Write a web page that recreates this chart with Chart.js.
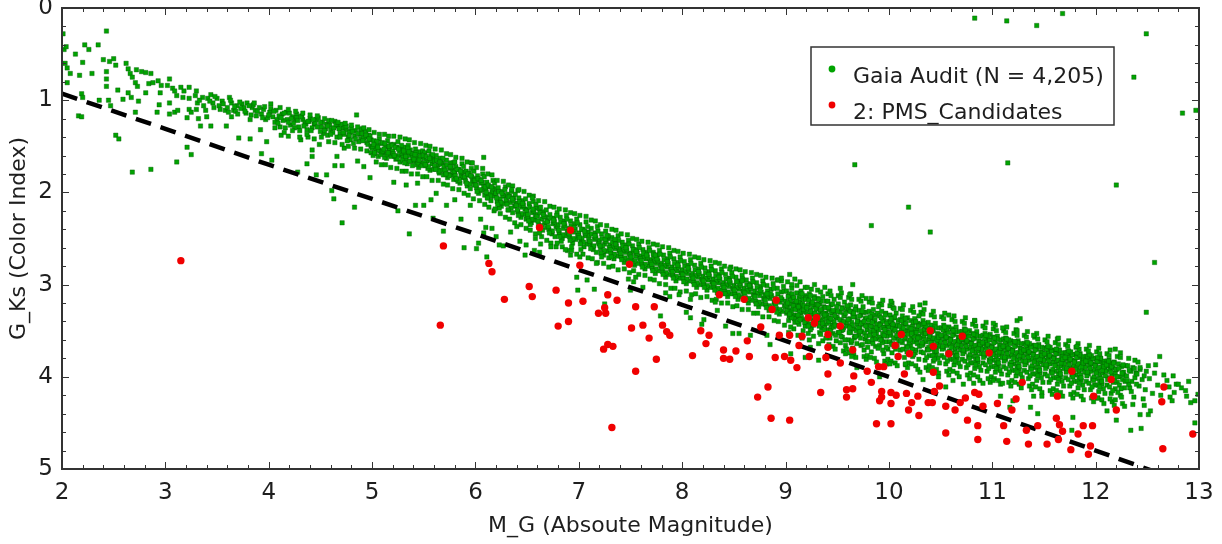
<!DOCTYPE html>
<html>
<head>
<meta charset="utf-8">
<script src="https://cdn.jsdelivr.net/npm/chart.js@4/dist/chart.umd.min.js"></script>
<style>
html, body { margin: 0; padding: 0; background: #fff; }
#wrap { width: 1222px; height: 544px; }
</style>
</head>
<body>
<div id="wrap"><canvas id="cmd" width="1222" height="544"></canvas></div>
<script>
// Gaia audit stars as [M_G, G_Ks]
// bright end, sparse (M_G 2 - 5)
const gaiaBright = [
  [2.01,0.28],[2.02,0.45],[2.04,0.42],[2.03,0.60],[2.05,0.65],[2.08,0.71],[2.05,0.81],[2.13,0.50],[2.22,0.40],[2.26,0.45],
  [2.35,0.40],[2.43,0.25],[2.20,0.59],[2.17,0.73],[2.29,0.71],[2.19,0.93],[2.20,0.97],[2.16,1.17],[2.19,1.18],[2.40,0.56],
  [2.46,0.58],[2.50,0.55],[2.52,0.62],[2.43,0.69],[2.43,0.77],[2.43,0.85],[2.36,1.00],[2.45,1.00],[2.47,1.06],[2.54,0.89],
  [2.59,0.99],[2.62,0.60],[2.64,0.66],[2.66,0.71],[2.68,0.75],[2.72,0.67],[2.71,0.81],[2.73,0.85],[2.64,0.92],[2.67,0.97],
  [2.74,1.01],[2.71,1.13],[2.52,1.38],[2.55,1.42],[2.68,1.78],[2.86,1.75],[2.77,0.69],[2.81,0.70],[2.86,0.71],[2.84,0.82],
  [2.88,0.81],[2.81,0.92],[2.93,0.79],[2.94,1.05],[2.92,1.13],[2.95,0.92],[2.96,0.84],[3.02,0.84],[3.04,0.77],[3.07,0.87],
  [3.09,0.90],[3.11,0.95],[3.04,1.03],[3.09,1.13],[3.04,1.15],[3.12,1.11],[3.15,0.86],[3.18,0.90],[3.23,0.86],[3.17,0.97],
  [3.23,0.98],[3.23,1.10],[3.21,1.19],[3.25,1.13],[3.30,0.90],[3.29,0.95],[3.31,1.03],[3.30,1.10],[3.32,1.20],[3.34,1.28],
  [3.36,0.97],[3.39,1.11],[3.40,1.18],[3.41,0.98],[3.44,0.94],[3.46,1.03],[3.47,1.08],[3.44,1.28],[3.50,0.98],[3.52,1.06],
  [3.55,1.01],[3.58,1.11],[3.62,0.97],[3.64,1.03],[3.66,1.11],[3.64,1.18],[3.59,1.28],[3.69,1.06],[3.71,1.41],[3.74,1.04],
  [3.76,1.08],[3.79,1.03],[3.82,1.21],[3.84,1.08],[3.87,1.11],[3.82,1.42],[3.91,1.08],[3.93,1.15],[3.92,1.32],[3.97,1.21],
  [3.98,1.45],[3.93,1.58],[4.03,1.65],[4.01,1.13],[4.04,1.18],[4.07,1.11],[4.08,1.21],[4.11,1.29],[4.12,1.38],[4.13,1.15],
  [4.17,1.13],[4.18,1.21],[4.21,1.27],[4.19,1.39],[4.23,1.18],[4.26,1.21],[4.27,1.15],[4.29,1.29],[4.28,1.78],[4.31,1.43],
  [4.33,1.21],[4.35,1.24],[4.37,1.32],[4.38,1.40],[4.40,1.20],[4.42,1.54],[4.42,1.61],[4.37,1.69],[4.44,1.26],[4.46,1.21],
  [4.46,1.81],[4.49,1.48],[4.51,1.29],[4.53,1.36],[4.56,1.26],[4.56,1.81],[4.58,1.22],[4.60,1.32],[4.61,1.98],[4.63,2.07],
  [4.64,1.71],[4.66,1.61],[4.67,1.28],[4.69,1.36],[4.72,1.30],[4.71,1.71],[4.73,1.52],[4.75,1.32],[4.77,1.40],[4.79,1.43],
  [4.79,1.34],[4.82,1.47],[4.83,2.16],[4.85,1.16],[4.86,1.66],[4.88,1.37],[4.89,1.42],[4.90,1.32],[4.92,1.72],[4.93,1.40],
  [4.95,1.46],[4.97,1.38],[4.98,1.84],[4.99,1.43],[4.71,2.33],[3.11,1.67],[3.21,1.51],[3.25,1.59],
  [3.60,1.08],[3.68,1.12],[3.72,1.02],[3.78,1.14],[3.85,1.05],[3.88,1.17],[3.95,1.10],[3.99,1.19],[4.02,1.09],[4.06,1.24],
  [4.10,1.17],[4.14,1.22],[4.16,1.30],[4.20,1.14],[4.24,1.25],[4.27,1.19],[4.30,1.33],[4.32,1.17],[4.36,1.26],[4.39,1.23],
  [4.42,1.30],[4.45,1.25],[4.48,1.19],[4.50,1.34],[4.52,1.24],[4.55,1.31],[4.57,1.38],[4.59,1.27],[4.62,1.35],[4.64,1.23],
  [4.66,1.40],[4.68,1.31],[4.70,1.26],[4.73,1.37],[4.74,1.29],[4.76,1.44],[4.78,1.35],[4.80,1.30],[4.83,1.39],[4.84,1.33],
  [4.87,1.45],[4.90,1.36],[4.92,1.41],[4.94,1.34],[4.96,1.48],[4.98,1.39],
  [3.33,1.00],[3.37,1.06],[3.43,1.01],[3.48,0.96],[3.53,1.10],[3.56,1.04],[3.61,1.13],[3.63,1.00],[3.67,1.07],[3.70,1.15],
  [3.73,1.09],[3.77,1.12],[3.81,1.06],[3.83,1.16],[3.86,1.03],[3.89,1.12],[3.94,1.19],[3.96,1.07],[4.00,1.16],[4.05,1.12],
  [4.09,1.25],[4.12,1.19],[4.15,1.14],[4.19,1.24],[4.22,1.20],[4.25,1.30],[4.28,1.22],[4.31,1.18],[4.34,1.28],[4.38,1.23],
  [4.41,1.33],[4.43,1.21],[4.47,1.29],[4.50,1.24],[4.54,1.33],[4.57,1.28],[4.60,1.37],[4.63,1.30],[4.65,1.26],[4.69,1.40],
  [4.72,1.35],[4.75,1.28],[4.78,1.38],[4.81,1.34],[4.84,1.42],[4.86,1.36],[4.89,1.31],[4.91,1.44],[4.94,1.38],[4.97,1.42],[4.99,1.50],
  [4.02,1.04],[4.06,1.30],[4.11,1.08],[4.15,1.35],[4.19,1.10],[4.23,1.33],[4.26,1.12],[4.30,1.40],[4.33,1.14],[4.37,1.37],
  [4.40,1.16],[4.44,1.42],[4.47,1.17],[4.51,1.40],[4.54,1.20],[4.58,1.45],[4.61,1.22],[4.64,1.46],[4.67,1.24],[4.71,1.48],
  [4.74,1.25],[4.77,1.50],[4.80,1.27],[4.83,1.52],[4.86,1.29],[4.89,1.53],[4.92,1.30],[4.95,1.55],[4.97,1.32],[4.99,1.57]
];

// main band, M_G 5 - 9
const gaiaMid = [
  [5.00,1.52],[5.02,1.44],[5.03,1.58],[5.05,1.49],[5.06,1.61],[5.07,1.42],[5.08,1.55],[5.09,1.47],[5.04,1.53],[5.01,1.60],
  [5.10,1.46],[5.11,1.57],[5.13,1.50],[5.14,1.63],[5.15,1.44],[5.16,1.54],[5.18,1.48],[5.19,1.59],[5.12,1.62],[5.17,1.52],
  [5.20,1.55],[5.21,1.48],[5.23,1.64],[5.24,1.51],[5.25,1.45],[5.26,1.60],[5.27,1.67],[5.28,1.53],[5.29,1.58],[5.22,1.61],
  [5.30,1.62],[5.31,1.51],[5.32,1.57],[5.34,1.69],[5.35,1.49],[5.36,1.60],[5.37,1.54],[5.38,1.66],[5.39,1.71],[5.33,1.64],
  [5.40,1.58],[5.41,1.66],[5.42,1.53],[5.44,1.62],[5.45,1.73],[5.46,1.56],[5.47,1.68],[5.48,1.61],[5.49,1.55],[5.43,1.70],
  [5.50,1.63],[5.51,1.57],[5.52,1.71],[5.53,1.66],[5.55,1.55],[5.56,1.76],[5.57,1.60],[5.58,1.69],[5.59,1.64],[5.54,1.74],
  [5.60,1.66],[5.61,1.73],[5.62,1.60],[5.64,1.70],[5.65,1.79],[5.66,1.63],[5.67,1.76],[5.68,1.68],[5.69,1.81],[5.63,1.74],
  [5.70,1.71],[5.71,1.78],[5.72,1.65],[5.73,1.84],[5.75,1.74],[5.76,1.68],[5.77,1.81],[5.78,1.76],[5.79,1.86],[5.74,1.80],
  [5.80,1.79],[5.81,1.72],[5.82,1.86],[5.84,1.75],[5.85,1.90],[5.86,1.82],[5.87,1.69],[5.88,1.84],[5.89,1.78],[5.83,1.88],
  [5.90,1.84],[5.91,1.77],[5.92,1.93],[5.93,1.81],[5.95,1.96],[5.96,1.74],[5.97,1.88],[5.98,1.85],[5.99,1.92],[5.94,1.79],
  [6.00,1.87],[6.01,1.95],[6.02,1.82],[6.03,2.01],[6.05,1.90],[6.06,1.98],[6.07,1.80],[6.08,1.93],[6.09,2.03],[6.04,1.86],
  [6.10,1.97],[6.11,1.89],[6.12,2.06],[6.14,1.94],[6.15,2.09],[6.16,2.00],[6.17,1.87],[6.18,2.04],[6.19,1.96],[6.13,2.02],
  [6.20,2.01],[6.21,2.10],[6.22,1.95],[6.24,2.07],[6.25,2.15],[6.26,1.99],[6.27,2.12],[6.28,2.04],[6.29,1.94],[6.23,2.17],
  [6.30,2.09],[6.31,2.02],[6.32,2.19],[6.34,2.11],[6.35,1.99],[6.36,2.22],[6.37,2.06],[6.38,2.15],[6.39,2.12],[6.33,2.04],
  [6.40,2.12],[6.41,2.21],[6.42,2.06],[6.44,2.27],[6.45,2.16],[6.46,2.09],[6.47,2.24],[6.48,2.18],[6.49,2.29],[6.43,2.14],
  [6.50,2.19],[6.51,2.27],[6.52,2.12],[6.54,2.33],[6.55,2.22],[6.56,2.10],[6.57,2.30],[6.58,2.25],[6.59,2.17],[6.53,2.35],
  [6.60,2.24],[6.61,2.35],[6.62,2.18],[6.64,2.29],[6.65,2.41],[6.66,2.21],[6.67,2.33],[6.68,2.27],[6.69,2.38],[6.63,2.16],
  [6.70,2.31],[6.71,2.40],[6.72,2.24],[6.74,2.45],[6.75,2.34],[6.76,2.28],[6.77,2.48],[6.78,2.37],[6.79,2.22],[6.73,2.42],
  [6.80,2.35],[6.81,2.44],[6.82,2.27],[6.84,2.50],[6.85,2.39],[6.86,2.31],[6.87,2.47],[6.88,2.25],[6.89,2.42],[6.83,2.53],
  [6.90,2.39],[6.91,2.48],[6.92,2.31],[6.94,2.55],[6.95,2.43],[6.96,2.34],[6.97,2.51],[6.98,2.29],[6.99,2.46],[6.93,2.41],
  [7.00,2.44],[7.01,2.35],[7.02,2.53],[7.04,2.40],[7.05,2.59],[7.06,2.47],[7.07,2.32],[7.08,2.56],[7.09,2.43],[7.03,2.50],
  [7.10,2.47],[7.11,2.56],[7.12,2.39],[7.14,2.62],[7.15,2.51],[7.16,2.44],[7.17,2.65],[7.18,2.37],[7.19,2.54],[7.13,2.59],
  [7.20,2.52],[7.21,2.61],[7.22,2.45],[7.24,2.68],[7.25,2.56],[7.26,2.42],[7.27,2.64],[7.28,2.50],[7.29,2.71],[7.23,2.58],
  [7.30,2.57],[7.31,2.66],[7.32,2.49],[7.34,2.72],[7.35,2.61],[7.36,2.53],[7.37,2.69],[7.38,2.47],[7.39,2.63],[7.33,2.59],
  [7.40,2.61],[7.41,2.70],[7.42,2.54],[7.44,2.76],[7.45,2.65],[7.46,2.57],[7.47,2.73],[7.48,2.52],[7.49,2.67],[7.43,2.63],
  [7.50,2.66],[7.51,2.74],[7.52,2.58],[7.54,2.79],[7.55,2.69],[7.56,2.62],[7.57,2.77],[7.58,2.56],[7.59,2.71],[7.53,2.64],
  [7.60,2.69],[7.61,2.78],[7.62,2.62],[7.64,2.83],[7.65,2.72],[7.66,2.65],[7.67,2.80],[7.68,2.60],[7.69,2.75],[7.63,2.70],
  [7.70,2.73],[7.71,2.82],[7.72,2.65],[7.74,2.88],[7.75,2.77],[7.76,2.68],[7.77,2.85],[7.78,2.63],[7.79,2.79],[7.73,2.75],
  [7.80,2.77],[7.81,2.86],[7.82,2.68],[7.84,2.92],[7.85,2.81],[7.86,2.72],[7.87,2.89],[7.88,2.66],[7.89,2.83],[7.83,2.79],
  [7.90,2.81],[7.91,2.90],[7.92,2.72],[7.94,2.96],[7.95,2.85],[7.96,2.76],[7.97,2.93],[7.98,2.70],[7.99,2.87],[7.93,2.83],
  [8.00,2.84],[8.01,2.93],[8.02,2.75],[8.04,2.99],[8.05,2.88],[8.06,2.79],[8.07,2.96],[8.08,2.73],[8.09,2.90],[8.03,2.86],
  [8.10,2.88],[8.11,2.97],[8.12,2.79],[8.14,3.03],[8.15,2.92],[8.16,2.83],[8.17,3.00],[8.18,2.77],[8.19,2.94],[8.13,2.90],
  [8.20,2.91],[8.21,3.00],[8.22,2.82],[8.24,3.06],[8.25,2.95],[8.26,2.86],[8.27,3.03],[8.28,2.80],[8.29,2.97],[8.23,2.93],
  [8.30,2.94],[8.31,3.03],[8.32,2.85],[8.34,3.09],[8.35,2.98],[8.36,2.89],[8.37,3.06],[8.38,2.83],[8.39,3.00],[8.33,2.96],
  [8.40,2.98],[8.41,3.07],[8.42,2.89],[8.44,3.13],[8.45,3.02],[8.46,2.93],[8.47,3.10],[8.48,2.87],[8.49,3.04],[8.43,3.00],
  [8.50,3.01],[8.51,3.10],[8.52,2.92],[8.54,3.16],[8.55,3.05],[8.56,2.96],[8.57,3.13],[8.58,2.90],[8.59,3.07],[8.53,3.03],
  [8.60,3.04],[8.61,3.14],[8.62,2.95],[8.64,3.20],[8.65,3.08],[8.66,2.99],[8.67,3.17],[8.68,2.93],[8.69,3.11],[8.63,3.06],
  [8.70,3.07],[8.71,3.18],[8.72,2.98],[8.74,3.24],[8.75,3.12],[8.76,3.02],[8.77,3.21],[8.78,2.96],[8.79,3.15],[8.73,3.09],
  [8.80,3.11],[8.81,3.22],[8.82,3.01],[8.84,3.28],[8.85,3.15],[8.86,3.05],[8.87,3.25],[8.88,2.99],[8.89,3.19],[8.83,3.13],
  [8.90,3.15],[8.91,3.26],[8.92,3.04],[8.94,3.32],[8.95,3.19],[8.96,3.08],[8.97,3.29],[8.98,3.02],[8.99,3.23],[8.93,3.17]
];

// denser core of the main band, M_G 5 - 9
const gaiaMidCore = [
  [5.005,1.50],[5.025,1.57],[5.045,1.45],[5.065,1.54],[5.085,1.59],[5.015,1.48],[5.055,1.51],[5.095,1.56],
  [5.105,1.55],[5.125,1.47],[5.145,1.59],[5.165,1.50],[5.185,1.61],[5.115,1.53],[5.155,1.57],[5.195,1.49],
  [5.205,1.58],[5.225,1.51],[5.245,1.63],[5.265,1.55],[5.285,1.49],[5.215,1.60],[5.255,1.53],[5.295,1.65],
  [5.305,1.55],[5.325,1.61],[5.345,1.52],[5.365,1.66],[5.385,1.58],[5.315,1.68],[5.355,1.56],[5.395,1.62],
  [5.405,1.64],[5.425,1.57],[5.445,1.68],[5.465,1.61],[5.485,1.71],[5.415,1.59],[5.455,1.65],[5.495,1.60],
  [5.505,1.68],[5.525,1.61],[5.545,1.72],[5.565,1.65],[5.585,1.59],[5.515,1.70],[5.555,1.63],[5.595,1.75],
  [5.605,1.71],[5.625,1.65],[5.645,1.77],[5.665,1.69],[5.685,1.63],[5.615,1.75],[5.655,1.67],[5.695,1.72],
  [5.705,1.76],[5.725,1.70],[5.745,1.82],[5.765,1.73],[5.785,1.68],[5.715,1.80],[5.755,1.72],[5.795,1.78],
  [5.805,1.82],[5.825,1.75],[5.845,1.87],[5.865,1.78],[5.885,1.72],[5.815,1.85],[5.855,1.77],[5.895,1.83],
  [5.905,1.88],[5.925,1.80],[5.945,1.91],[5.965,1.83],[5.985,1.77],[5.915,1.90],[5.955,1.82],[5.995,1.87],
  [6.005,1.92],[6.025,1.85],[6.045,1.97],[6.065,1.89],[6.085,1.83],[6.015,1.99],[6.055,1.87],[6.095,1.94],
  [6.105,2.00],[6.125,1.92],[6.145,2.04],[6.165,1.96],[6.185,1.90],[6.115,2.06],[6.155,1.94],[6.195,2.01],
  [6.205,2.06],[6.225,1.99],[6.245,2.11],[6.265,2.03],[6.285,1.97],[6.215,2.13],[6.255,2.01],[6.295,2.08],
  [6.305,2.13],[6.325,2.05],[6.345,2.17],[6.365,2.09],[6.385,2.02],[6.315,2.19],[6.355,2.07],[6.395,2.14],
  [6.405,2.19],[6.425,2.10],[6.445,2.23],[6.465,2.14],[6.485,2.07],[6.415,2.25],[6.455,2.12],[6.495,2.20],
  [6.505,2.24],[6.525,2.16],[6.545,2.29],[6.565,2.20],[6.585,2.13],[6.515,2.31],[6.555,2.18],[6.595,2.26],
  [6.605,2.31],[6.625,2.22],[6.645,2.36],[6.665,2.26],[6.685,2.19],[6.615,2.38],[6.655,2.24],[6.695,2.32],
  [6.705,2.37],[6.725,2.28],[6.745,2.42],[6.765,2.32],[6.785,2.25],[6.715,2.44],[6.755,2.30],[6.795,2.39],
  [6.805,2.41],[6.825,2.32],[6.845,2.46],[6.865,2.36],[6.885,2.29],[6.815,2.48],[6.855,2.34],[6.895,2.43],
  [6.905,2.45],[6.925,2.36],[6.945,2.50],[6.965,2.40],[6.985,2.33],[6.915,2.52],[6.955,2.38],[6.995,2.47],
  [7.005,2.49],[7.025,2.40],[7.045,2.54],[7.065,2.44],[7.085,2.37],[7.015,2.56],[7.055,2.42],[7.095,2.51],
  [7.105,2.53],[7.125,2.45],[7.145,2.58],[7.165,2.49],[7.185,2.42],[7.115,2.61],[7.155,2.47],[7.195,2.56],
  [7.205,2.58],[7.225,2.50],[7.245,2.63],[7.265,2.53],[7.285,2.47],[7.215,2.66],[7.255,2.51],[7.295,2.60],
  [7.305,2.62],[7.325,2.54],[7.345,2.67],[7.365,2.58],[7.385,2.52],[7.315,2.70],[7.355,2.56],[7.395,2.64],
  [7.405,2.66],[7.425,2.58],[7.445,2.71],[7.465,2.62],[7.485,2.56],[7.415,2.73],[7.455,2.60],[7.495,2.68],
  [7.505,2.70],[7.525,2.62],[7.545,2.74],[7.565,2.66],[7.585,2.60],[7.515,2.77],[7.555,2.64],[7.595,2.72],
  [7.605,2.74],[7.625,2.66],[7.645,2.78],[7.665,2.70],[7.685,2.63],[7.615,2.81],[7.655,2.68],[7.695,2.76],
  [7.705,2.78],[7.725,2.70],[7.745,2.83],[7.765,2.74],[7.785,2.67],[7.715,2.85],[7.755,2.72],[7.795,2.80],
  [7.805,2.82],[7.825,2.73],[7.845,2.87],[7.865,2.77],[7.885,2.70],[7.815,2.89],[7.855,2.75],[7.895,2.84],
  [7.905,2.86],[7.925,2.77],[7.945,2.91],[7.965,2.81],[7.985,2.74],[7.915,2.93],[7.955,2.79],[7.995,2.88],
  [8.005,2.89],[8.025,2.80],[8.045,2.94],[8.065,2.84],[8.085,2.77],[8.015,2.97],[8.055,2.82],[8.095,2.91],
  [8.105,2.93],[8.125,2.84],[8.145,2.98],[8.165,2.88],[8.185,2.81],[8.115,3.00],[8.155,2.86],[8.195,2.95],
  [8.205,2.96],[8.225,2.87],[8.245,3.01],[8.265,2.91],[8.285,2.84],[8.215,3.03],[8.255,2.89],[8.295,2.98],
  [8.305,2.99],[8.325,2.90],[8.345,3.04],[8.365,2.94],[8.385,2.87],[8.315,3.06],[8.355,2.92],[8.395,3.01],
  [8.405,3.03],[8.425,2.94],[8.445,3.08],[8.465,2.98],[8.485,2.91],[8.415,3.10],[8.455,2.96],[8.495,3.05],
  [8.505,3.06],[8.525,2.97],[8.545,3.11],[8.565,3.01],[8.585,2.94],[8.515,3.13],[8.555,2.99],[8.595,3.08],
  [8.605,3.09],[8.625,3.00],[8.645,3.15],[8.665,3.04],[8.685,2.97],[8.615,3.17],[8.655,3.02],[8.695,3.12],
  [8.705,3.13],[8.725,3.03],[8.745,3.19],[8.765,3.08],[8.785,3.00],[8.715,3.21],[8.755,3.06],[8.795,3.16],
  [8.805,3.17],[8.825,3.07],[8.845,3.23],[8.865,3.12],[8.885,3.04],[8.815,3.25],[8.855,3.10],[8.895,3.20],
  [8.905,3.21],[8.925,3.10],[8.945,3.27],[8.965,3.16],[8.985,3.07],[8.915,3.30],[8.955,3.14],[8.995,3.24]
];

// loose edges of the main band, M_G 5 - 9
const gaiaMidEdge = [
  [5.02,1.35],[5.07,1.37],[5.04,1.67],[5.09,1.70],[5.12,1.37],[5.16,1.39],[5.13,1.70],[5.18,1.73],
  [5.21,1.39],[5.27,1.40],[5.24,1.74],[5.29,1.77],[5.32,1.42],[5.36,1.43],[5.33,1.77],[5.38,1.80],
  [5.41,1.46],[5.47,1.47],[5.44,1.80],[5.49,1.83],[5.52,1.49],[5.56,1.50],[5.53,1.83],[5.58,1.87],
  [5.61,1.53],[5.67,1.54],[5.64,1.87],[5.69,1.91],[5.72,1.58],[5.76,1.59],[5.73,1.92],[5.78,1.96],
  [5.81,1.62],[5.87,1.63],[5.84,1.97],[5.89,2.01],[5.92,1.67],[5.96,1.68],[5.93,2.03],[5.98,2.07],
  [6.01,1.73],[6.07,1.74],[6.04,2.09],[6.09,2.13],[6.12,1.80],[6.16,1.81],[6.13,2.16],[6.18,2.20],
  [6.21,1.87],[6.27,1.88],[6.24,2.23],[6.29,2.27],[6.32,1.92],[6.36,1.93],[6.33,2.29],[6.38,2.33],
  [6.41,1.98],[6.47,1.99],[6.44,2.35],[6.49,2.39],[6.52,2.03],[6.56,2.04],[6.53,2.41],[6.58,2.45],
  [6.61,2.09],[6.67,2.10],[6.64,2.48],[6.69,2.52],[6.72,2.15],[6.76,2.16],[6.73,2.55],[6.78,2.59],
  [6.81,2.18],[6.87,2.19],[6.84,2.59],[6.89,2.63],[6.92,2.22],[6.96,2.23],[6.93,2.63],[6.98,2.67],
  [7.01,2.25],[7.07,2.26],[7.04,2.67],[7.09,2.71],[7.12,2.30],[7.16,2.31],[7.13,2.72],[7.18,2.76],
  [7.21,2.35],[7.27,2.36],[7.24,2.77],[7.29,2.81],[7.32,2.40],[7.36,2.41],[7.33,2.80],[7.38,2.84],
  [7.41,2.45],[7.47,2.46],[7.44,2.83],[7.49,2.87],[7.52,2.50],[7.56,2.51],[7.53,2.85],[7.58,2.89],
  [7.61,2.53],[7.67,2.54],[7.64,2.90],[7.69,2.94],[7.72,2.56],[7.76,2.57],[7.73,2.95],[7.78,2.99],
  [7.81,2.59],[7.87,2.60],[7.84,3.00],[7.89,3.04],[7.92,2.63],[7.96,2.64],[7.93,3.04],[7.98,3.08],
  [8.01,2.66],[8.07,2.67],[8.04,3.07],[8.09,3.11],[8.12,2.70],[8.16,2.71],[8.13,3.10],[8.18,3.14],
  [8.21,2.73],[8.27,2.74],[8.24,3.13],[8.29,3.17],[8.32,2.76],[8.36,2.77],[8.33,3.16],[8.38,3.20],
  [8.41,2.80],[8.47,2.81],[8.44,3.20],[8.49,3.24],[8.52,2.83],[8.56,2.84],[8.53,3.23],[8.58,3.27],
  [8.61,2.86],[8.67,2.87],[8.64,3.27],[8.69,3.31],[8.72,2.89],[8.76,2.90],[8.73,3.31],[8.78,3.35],
  [8.81,2.92],[8.87,2.93],[8.84,3.35],[8.89,3.39],[8.92,2.95],[8.96,2.96],[8.93,3.40],[8.99,3.44]
];

// faint, wide band, M_G 9 - 13
const gaiaFaint = [
  [9.00,3.18],[9.01,3.31],[9.01,3.07],[9.02,3.24],[9.03,3.39],[9.03,3.12],[9.04,3.28],[9.05,3.21],[9.05,3.35],[9.06,3.04],[9.07,3.26],[9.07,3.15],[9.08,3.33],[9.09,3.20],[9.09,3.41],[9.04,3.10],
  [9.10,3.22],[9.11,3.09],[9.11,3.35],[9.12,3.27],[9.13,3.14],[9.13,3.43],[9.14,3.19],[9.15,3.31],[9.15,3.07],[9.16,3.25],[9.17,3.38],[9.17,3.16],[9.18,3.29],[9.19,3.12],[9.19,3.45],[9.14,3.23],
  [9.20,3.30],[9.21,3.14],[9.21,3.41],[9.22,3.22],[9.23,3.35],[9.23,3.10],[9.24,3.27],[9.25,3.47],[9.25,3.19],[9.26,3.32],[9.27,3.24],[9.27,3.44],[9.28,3.13],[9.29,3.37],[9.29,3.21],[9.24,3.49],
  [9.30,3.26],[9.31,3.41],[9.31,3.15],[9.32,3.33],[9.33,3.52],[9.33,3.21],[9.34,3.38],[9.35,3.29],[9.35,3.47],[9.36,3.13],[9.37,3.35],[9.37,3.24],[9.38,3.44],[9.39,3.18],[9.39,3.31],[9.34,3.54],
  [9.40,3.33],[9.41,3.18],[9.41,3.49],[9.42,3.27],[9.43,3.58],[9.43,3.38],[9.44,3.22],[9.45,3.44],[9.45,3.31],[9.46,3.53],[9.47,3.16],[9.47,3.40],[9.48,3.29],[9.49,3.61],[9.49,3.35],[9.44,3.47],
  [9.50,3.36],[9.51,3.52],[9.51,3.21],[9.52,3.44],[9.53,3.30],[9.53,3.63],[9.54,3.39],[9.55,3.25],[9.55,3.57],[9.56,3.47],[9.57,3.19],[9.57,3.34],[9.58,3.66],[9.59,3.42],[9.59,3.28],[9.54,3.50],
  [9.60,3.45],[9.61,3.26],[9.61,3.60],[9.62,3.37],[9.63,3.52],[9.63,3.22],[9.64,3.41],[9.65,3.69],[9.65,3.31],[9.66,3.48],[9.67,3.56],[9.67,3.35],[9.68,3.24],[9.69,3.64],[9.69,3.43],[9.64,3.29],
  [9.70,3.39],[9.71,3.55],[9.71,3.28],[9.72,3.47],[9.73,3.66],[9.73,3.33],[9.74,3.51],[9.75,3.24],[9.75,3.43],[9.76,3.71],[9.77,3.37],[9.77,3.59],[9.78,3.30],[9.79,3.49],[9.79,3.62],[9.74,3.41],
  [9.80,3.44],[9.81,3.29],[9.81,3.62],[9.82,3.51],[9.83,3.36],[9.83,3.73],[9.84,3.46],[9.85,3.27],[9.85,3.57],[9.86,3.40],[9.87,3.67],[9.87,3.33],[9.88,3.53],[9.89,3.48],[9.89,3.31],[9.84,3.60],
  [9.90,3.49],[9.91,3.34],[9.91,3.66],[9.92,3.42],[9.93,3.58],[9.93,3.29],[9.94,3.53],[9.95,3.75],[9.95,3.38],[9.96,3.46],[9.97,3.62],[9.97,3.31],[9.98,3.56],[9.99,3.44],[9.99,3.70],[9.94,3.40],
  [10.00,3.46],[10.01,3.62],[10.01,3.33],[10.02,3.55],[10.03,3.41],[10.03,3.74],[10.04,3.50],[10.05,3.36],[10.05,3.67],[10.06,3.58],[10.07,3.31],[10.07,3.45],[10.08,3.78],[10.09,3.52],[10.09,3.39],[10.04,3.64],
  [10.10,3.56],[10.11,3.38],[10.11,3.71],[10.12,3.48],[10.13,3.63],[10.13,3.34],[10.14,3.53],[10.15,3.79],[10.15,3.43],[10.16,3.59],[10.17,3.50],[10.17,3.67],[10.18,3.36],[10.19,3.46],[10.19,3.75],[10.14,3.41],
  [10.20,3.51],[10.21,3.66],[10.21,3.39],[10.22,3.58],[10.23,3.78],[10.23,3.45],[10.24,3.62],[10.25,3.37],[10.25,3.54],[10.26,3.71],[10.27,3.48],[10.27,3.60],[10.28,3.42],[10.29,3.81],[10.29,3.56],[10.24,3.50],
  [10.30,3.58],[10.31,3.43],[10.31,3.73],[10.32,3.52],[10.33,3.65],[10.33,3.39],[10.34,3.56],[10.35,3.82],[10.35,3.47],[10.36,3.62],[10.37,3.53],[10.37,3.70],[10.38,3.41],[10.39,3.59],[10.39,3.77],[10.34,3.49],
  [10.40,3.55],[10.41,3.70],[10.41,3.44],[10.42,3.62],[10.43,3.83],[10.43,3.50],[10.44,3.66],[10.45,3.42],[10.45,3.58],[10.46,3.76],[10.47,3.53],[10.47,3.64],[10.48,3.47],[10.49,3.85],[10.49,3.60],[10.44,3.73],
  [10.50,3.62],[10.51,3.47],[10.51,3.77],[10.52,3.56],[10.53,3.69],[10.53,3.44],[10.54,3.60],[10.55,3.86],[10.55,3.51],[10.56,3.66],[10.57,3.58],[10.57,3.74],[10.58,3.46],[10.59,3.64],[10.59,3.81],[10.54,3.54],
  [10.60,3.59],[10.61,3.74],[10.61,3.48],[10.62,3.66],[10.63,3.87],[10.63,3.54],[10.64,3.70],[10.65,3.46],[10.65,3.62],[10.66,3.80],[10.67,3.57],[10.67,3.68],[10.68,3.51],[10.69,3.89],[10.69,3.64],[10.64,3.77],
  [10.70,3.66],[10.71,3.51],[10.71,3.81],[10.72,3.60],[10.73,3.73],[10.73,3.48],[10.74,3.64],[10.75,3.90],[10.75,3.55],[10.76,3.70],[10.77,3.62],[10.77,3.78],[10.78,3.50],[10.79,3.68],[10.79,3.85],[10.74,3.58],
  [10.80,3.63],[10.81,3.78],[10.81,3.53],[10.82,3.70],[10.83,3.91],[10.83,3.58],[10.84,3.74],[10.85,3.51],[10.85,3.66],[10.86,3.84],[10.87,3.61],[10.87,3.72],[10.88,3.56],[10.89,3.93],[10.89,3.68],[10.84,3.81],
  [10.90,3.70],[10.91,3.55],[10.91,3.85],[10.92,3.64],[10.93,3.77],[10.93,3.53],[10.94,3.68],[10.95,3.94],[10.95,3.59],[10.96,3.74],[10.97,3.66],[10.97,3.82],[10.98,3.54],[10.99,3.72],[10.99,3.89],[10.94,3.62],
  [11.00,3.67],[11.01,3.82],[11.01,3.57],[11.02,3.74],[11.03,3.95],[11.03,3.62],[11.04,3.78],[11.05,3.56],[11.05,3.70],[11.06,3.88],[11.07,3.65],[11.07,3.76],[11.08,3.60],[11.09,3.97],[11.09,3.72],[11.04,3.85],
  [11.10,3.74],[11.11,3.59],[11.11,3.89],[11.12,3.68],[11.13,3.81],[11.13,3.58],[11.14,3.72],[11.15,3.98],[11.15,3.63],[11.16,3.78],[11.17,3.70],[11.17,3.86],[11.18,3.61],[11.19,3.76],[11.19,3.93],[11.14,3.66],
  [11.20,3.71],[11.21,3.86],[11.21,3.62],[11.22,3.78],[11.23,3.99],[11.23,3.66],[11.24,3.82],[11.25,3.61],[11.25,3.74],[11.26,3.92],[11.27,3.69],[11.27,3.80],[11.28,3.64],[11.29,4.01],[11.29,3.76],[11.24,3.89],
  [11.30,3.78],[11.31,3.64],[11.31,3.93],[11.32,3.72],[11.33,3.85],[11.33,3.63],[11.34,3.76],[11.35,4.02],[11.35,3.67],[11.36,3.82],[11.37,3.74],[11.37,3.90],[11.38,3.66],[11.39,3.80],[11.39,3.97],[11.34,3.70],
  [11.40,3.75],[11.41,3.90],[11.41,3.66],[11.42,3.82],[11.43,4.04],[11.43,3.70],[11.44,3.86],[11.45,3.65],[11.45,3.78],[11.46,3.96],[11.47,3.73],[11.47,3.84],[11.48,3.68],[11.49,4.06],[11.49,3.80],[11.44,3.93],
  [11.50,3.82],[11.51,3.69],[11.51,3.97],[11.52,3.76],[11.53,3.89],[11.53,3.68],[11.54,3.80],[11.55,4.06],[11.55,3.72],[11.56,3.86],[11.57,3.78],[11.57,3.94],[11.58,3.71],[11.59,3.84],[11.59,4.01],[11.54,3.74],
  [11.60,3.79],[11.61,3.94],[11.61,3.72],[11.62,3.86],[11.63,4.08],[11.63,3.75],[11.64,3.90],[11.65,3.71],[11.65,3.82],[11.66,4.00],[11.67,3.77],[11.67,3.88],[11.68,3.74],[11.69,4.10],[11.69,3.84],[11.64,3.97],
  [11.70,3.86],[11.71,3.74],[11.71,4.01],[11.72,3.80],[11.73,3.93],[11.73,3.73],[11.74,3.84],[11.75,4.10],[11.75,3.77],[11.76,3.90],[11.77,3.82],[11.77,3.98],[11.78,3.76],[11.79,3.88],[11.79,4.05],[11.74,3.79],
  [11.80,3.83],[11.81,3.98],[11.81,3.76],[11.82,3.90],[11.83,4.12],[11.83,3.79],[11.84,3.94],[11.85,3.75],[11.85,3.86],[11.86,4.04],[11.87,3.81],[11.87,3.92],[11.88,3.78],[11.89,4.14],[11.89,3.88],[11.84,4.01],
  [11.90,3.90],[11.91,3.78],[11.91,4.05],[11.92,3.84],[11.93,3.97],[11.93,3.77],[11.94,3.88],[11.95,4.14],[11.95,3.81],[11.96,3.94],[11.97,3.86],[11.97,4.02],[11.98,3.80],[11.99,3.92],[11.99,4.09],[11.94,3.83],
  [12.00,3.87],[12.01,4.02],[12.01,3.81],[12.02,3.94],[12.03,4.16],[12.03,3.84],[12.04,3.98],[12.05,3.80],[12.05,3.90],[12.06,4.08],[12.07,3.85],[12.07,3.96],[12.08,3.83],[12.09,4.18],[12.09,3.92],[12.04,4.05],
  [12.10,3.94],[12.11,3.83],[12.11,4.09],[12.12,3.88],[12.13,4.01],[12.13,3.82],[12.14,3.92],[12.15,4.18],[12.15,3.85],[12.16,3.98],[12.17,3.90],[12.17,4.06],[12.18,3.84],[12.19,3.96],[12.19,4.13],[12.14,3.87],
  [12.20,3.92],[12.21,4.06],[12.22,3.86],[12.23,4.00],[12.24,4.20],[12.25,3.89],[12.26,4.03],[12.27,3.95],[12.28,4.12],[12.29,3.88],[12.23,4.09],[12.27,3.98],
  [12.30,3.99],[12.31,3.88],[12.33,4.12],[12.34,3.94],[12.35,4.05],[12.36,3.90],[12.37,4.22],[12.38,4.01],[12.39,3.96],[12.32,4.08],
  [12.40,3.97],[12.42,4.10],[12.43,3.92],[12.45,4.03],[12.46,4.24],[12.47,3.99],[12.48,4.14],[12.49,3.94],
  [12.52,4.02],[12.55,4.18],[12.57,3.96],[12.60,4.09],[12.63,4.20],[12.66,3.98],[12.69,4.04],[12.72,4.22],[12.75,3.99],[12.83,4.12],[12.90,4.05],[12.99,4.19]
];

// denser core of the faint band
const gaiaFaintCore = [
  [9.005,3.22],[9.015,3.29],[9.025,3.13],[9.035,3.34],[9.045,3.17],[9.055,3.30],[9.065,3.10],[9.075,3.23],[9.085,3.37],[9.095,3.27],[9.02,3.20],[9.06,3.36],[9.08,3.14],[9.04,3.32],
  [9.105,3.18],[9.115,3.40],[9.125,3.24],[9.135,3.30],[9.145,3.12],[9.155,3.36],[9.165,3.21],[9.175,3.27],[9.185,3.41],[9.195,3.16],[9.12,3.33],[9.16,3.10],[9.18,3.23],[9.14,3.38],
  [9.205,3.25],[9.215,3.33],[9.225,3.17],[9.235,3.43],[9.245,3.29],[9.255,3.21],[9.265,3.39],[9.275,3.15],[9.285,3.31],[9.295,3.26],[9.22,3.45],[9.26,3.19],[9.28,3.36],[9.24,3.12],
  [9.305,3.35],[9.315,3.22],[9.325,3.45],[9.335,3.28],[9.345,3.18],[9.355,3.40],[9.365,3.31],[9.375,3.49],[9.385,3.25],[9.395,3.37],[9.32,3.16],[9.36,3.42],[9.38,3.33],[9.34,3.27],
  [9.405,3.42],[9.415,3.25],[9.425,3.36],[9.435,3.50],[9.445,3.30],[9.455,3.21],[9.465,3.46],[9.475,3.34],[9.485,3.55],[9.495,3.24],[9.42,3.40],[9.46,3.28],[9.48,3.44],[9.44,3.37],
  [9.505,3.29],[9.515,3.45],[9.525,3.38],[9.535,3.56],[9.545,3.26],[9.555,3.49],[9.565,3.33],[9.575,3.60],[9.585,3.41],[9.595,3.23],[9.52,3.52],[9.56,3.40],[9.58,3.31],[9.54,3.46],
  [9.605,3.38],[9.615,3.52],[9.625,3.29],[9.635,3.63],[9.645,3.44],[9.655,3.35],[9.665,3.58],[9.675,3.27],[9.685,3.50],[9.695,3.40],[9.62,3.47],[9.66,3.31],[9.68,3.56],[9.64,3.61],
  [9.705,3.47],[9.715,3.34],[9.725,3.58],[9.735,3.42],[9.745,3.65],[9.755,3.30],[9.765,3.53],[9.775,3.45],[9.785,3.36],[9.795,3.68],[9.72,3.51],[9.76,3.40],[9.78,3.56],[9.74,3.29],
  [9.805,3.39],[9.815,3.55],[9.825,3.45],[9.835,3.32],[9.845,3.64],[9.855,3.50],[9.865,3.38],[9.875,3.59],[9.885,3.43],[9.895,3.69],[9.82,3.35],[9.86,3.54],[9.88,3.47],[9.84,3.41],
  [9.905,3.57],[9.915,3.44],[9.925,3.36],[9.935,3.63],[9.945,3.47],[9.955,3.55],[9.965,3.33],[9.975,3.68],[9.985,3.51],[9.995,3.40],[9.92,3.60],[9.96,3.49],[9.98,3.42],[9.94,3.71],
  [10.005,3.52],[10.015,3.40],[10.025,3.65],[10.035,3.47],[10.045,3.58],[10.055,3.35],[10.065,3.70],[10.075,3.55],[10.085,3.44],[10.095,3.61],[10.02,3.37],[10.06,3.49],[10.08,3.66],[10.04,3.43],
  [10.105,3.45],[10.115,3.61],[10.125,3.39],[10.135,3.70],[10.145,3.50],[10.155,3.57],[10.165,3.42],[10.175,3.73],[10.185,3.54],[10.195,3.63],[10.12,3.52],[10.16,3.37],[10.18,3.68],[10.14,3.47],
  [10.205,3.60],[10.215,3.48],[10.225,3.70],[10.235,3.41],[10.245,3.56],[10.255,3.74],[10.265,3.52],[10.275,3.64],[10.285,3.45],[10.295,3.67],[10.22,3.53],[10.26,3.40],[10.28,3.58],[10.24,3.76],
  [10.305,3.50],[10.315,3.66],[10.325,3.44],[10.335,3.74],[10.345,3.60],[10.355,3.53],[10.365,3.79],[10.375,3.47],[10.385,3.68],[10.395,3.56],[10.32,3.63],[10.36,3.45],[10.38,3.71],[10.34,3.42],
  [10.405,3.63],[10.415,3.51],[10.425,3.77],[10.435,3.58],[10.445,3.46],[10.455,3.69],[10.465,3.60],[10.475,3.80],[10.485,3.54],[10.495,3.67],[10.42,3.48],[10.46,3.72],[10.48,3.57],[10.44,3.81],
  [10.505,3.55],[10.515,3.70],[10.525,3.49],[10.535,3.79],[10.545,3.63],[10.555,3.57],[10.565,3.83],[10.575,3.52],[10.585,3.72],[10.595,3.60],[10.52,3.67],[10.56,3.48],[10.58,3.76],[10.54,3.46],
  [10.605,3.68],[10.615,3.55],[10.625,3.81],[10.635,3.62],[10.645,3.51],[10.655,3.74],[10.665,3.65],[10.675,3.85],[10.685,3.58],[10.695,3.71],[10.62,3.50],[10.66,3.77],[10.68,3.61],[10.64,3.83],
  [10.705,3.59],[10.715,3.75],[10.725,3.54],[10.735,3.83],[10.745,3.67],[10.755,3.61],[10.765,3.87],[10.775,3.56],[10.785,3.76],[10.795,3.64],[10.72,3.71],[10.76,3.52],[10.78,3.80],[10.74,3.49],
  [10.805,3.72],[10.815,3.59],[10.825,3.85],[10.835,3.66],[10.845,3.55],[10.855,3.78],[10.865,3.69],[10.875,3.89],[10.885,3.62],[10.895,3.75],[10.82,3.54],[10.86,3.81],[10.88,3.65],[10.84,3.87],
  [10.905,3.63],[10.915,3.79],[10.925,3.58],[10.935,3.87],[10.945,3.71],[10.955,3.65],[10.965,3.91],[10.975,3.60],[10.985,3.80],[10.995,3.68],[10.92,3.75],[10.96,3.56],[10.98,3.84],[10.94,3.55],
  [11.005,3.76],[11.015,3.63],[11.025,3.89],[11.035,3.70],[11.045,3.59],[11.055,3.82],[11.065,3.73],[11.075,3.93],[11.085,3.66],[11.095,3.79],[11.02,3.58],[11.06,3.85],[11.08,3.69],[11.04,3.91],
  [11.105,3.67],[11.115,3.83],[11.125,3.62],[11.135,3.91],[11.145,3.75],[11.155,3.69],[11.165,3.95],[11.175,3.64],[11.185,3.84],[11.195,3.72],[11.12,3.79],[11.16,3.60],[11.18,3.88],[11.14,3.59],
  [11.205,3.80],[11.215,3.67],[11.225,3.93],[11.235,3.74],[11.245,3.63],[11.255,3.86],[11.265,3.77],[11.275,3.97],[11.285,3.70],[11.295,3.83],[11.22,3.62],[11.26,3.89],[11.28,3.73],[11.24,3.95],
  [11.305,3.71],[11.315,3.87],[11.325,3.66],[11.335,3.95],[11.345,3.79],[11.355,3.73],[11.365,3.99],[11.375,3.68],[11.385,3.88],[11.395,3.76],[11.32,3.83],[11.36,3.64],[11.38,3.92],[11.34,3.63],
  [11.405,3.84],[11.415,3.71],[11.425,3.97],[11.435,3.78],[11.445,3.67],[11.455,3.90],[11.465,3.81],[11.475,4.01],[11.485,3.74],[11.495,3.87],[11.42,3.66],[11.46,3.93],[11.48,3.77],[11.44,3.99],
  [11.505,3.75],[11.515,3.91],[11.525,3.70],[11.535,3.99],[11.545,3.83],[11.555,3.77],[11.565,4.03],[11.575,3.72],[11.585,3.92],[11.595,3.80],[11.52,3.87],[11.56,3.68],[11.58,3.96],[11.54,3.67],
  [11.605,3.88],[11.615,3.75],[11.625,4.01],[11.635,3.82],[11.645,3.71],[11.655,3.94],[11.665,3.85],[11.675,4.05],[11.685,3.78],[11.695,3.91],[11.62,3.70],[11.66,3.97],[11.68,3.81],[11.64,4.03],
  [11.705,3.79],[11.715,3.95],[11.725,3.74],[11.735,4.03],[11.745,3.87],[11.755,3.81],[11.765,4.07],[11.775,3.76],[11.785,3.96],[11.795,3.84],[11.72,3.91],[11.76,3.73],[11.78,4.00],[11.74,3.72],
  [11.805,3.92],[11.815,3.79],[11.825,4.05],[11.835,3.86],[11.845,3.76],[11.855,3.98],[11.865,3.89],[11.875,4.09],[11.885,3.82],[11.895,3.95],[11.82,3.74],[11.86,4.01],[11.88,3.85],[11.84,4.07],
  [11.905,3.83],[11.915,3.99],[11.925,3.78],[11.935,4.07],[11.945,3.91],[11.955,3.85],[11.965,4.11],[11.975,3.80],[11.985,4.00],[11.995,3.88],[11.92,3.95],[11.96,3.77],[11.98,4.04],[11.94,3.76],
  [12.005,3.96],[12.015,3.83],[12.025,4.09],[12.035,3.90],[12.045,3.80],[12.055,4.02],[12.065,3.93],[12.075,4.13],[12.085,3.86],[12.095,3.99],[12.02,3.79],[12.06,4.05],[12.08,3.89],[12.04,4.11],
  [12.105,3.87],[12.115,4.03],[12.125,3.83],[12.135,4.11],[12.145,3.95],[12.155,3.89],[12.165,4.15],[12.175,3.85],[12.185,4.04],[12.195,3.92],
  [12.205,4.00],[12.225,3.91],[12.245,4.13],[12.265,3.87],[12.285,4.05],[12.215,4.17],[12.255,3.96],
  [12.305,4.04],[12.325,3.93],[12.345,4.16],[12.375,3.91],[12.395,4.08]
];

// loose edges of the faint band
const gaiaFaintEdge = [
  [9.02,2.97],[9.06,3.00],[9.08,3.48],[9.03,3.52],[9.09,2.94],[9.05,3.46],
  [9.11,3.01],[9.14,2.97],[9.17,3.50],[9.12,3.55],[9.19,3.03],[9.16,3.58],
  [9.21,3.03],[9.25,3.05],[9.27,3.56],[9.23,3.60],[9.28,3.00],[9.22,3.53],
  [9.31,3.06],[9.34,3.08],[9.36,3.61],[9.32,3.64],[9.38,3.03],[9.39,3.58],
  [9.41,3.10],[9.43,3.07],[9.46,3.67],[9.48,3.70],[9.44,3.12],[9.42,3.65],
  [9.51,3.12],[9.54,3.09],[9.56,3.72],[9.58,3.75],[9.53,3.14],[9.59,3.70],
  [9.61,3.14],[9.63,3.10],[9.66,3.76],[9.68,3.79],[9.64,3.16],[9.62,3.74],
  [9.71,3.16],[9.74,3.12],[9.76,3.78],[9.78,3.81],[9.73,3.18],[9.79,3.77],
  [9.81,3.19],[9.83,3.15],[9.86,3.80],[9.88,3.84],[9.84,3.20],[9.82,3.79],
  [9.91,3.21],[9.94,3.17],[9.96,3.83],[9.98,3.86],[9.93,3.22],[9.99,3.81],
  [10.01,3.23],[10.03,3.20],[10.06,3.85],[10.08,3.88],[10.04,3.25],[10.02,3.83],
  [10.11,3.26],[10.14,3.22],[10.16,3.87],[10.18,3.90],[10.13,3.27],[10.19,3.85],
  [10.21,3.28],[10.23,3.24],[10.26,3.88],[10.28,3.92],[10.24,3.30],[10.22,3.86],
  [10.31,3.30],[10.34,3.27],[10.36,3.90],[10.38,3.93],[10.33,3.32],[10.39,3.88],
  [10.41,3.33],[10.43,3.29],[10.46,3.92],[10.48,3.96],[10.44,3.35],[10.42,3.90],
  [10.51,3.35],[10.54,3.31],[10.56,3.94],[10.58,3.98],[10.53,3.37],[10.59,3.92],
  [10.61,3.38],[10.63,3.34],[10.66,3.96],[10.68,4.00],[10.64,3.40],[10.62,3.94],
  [10.71,3.40],[10.74,3.36],[10.76,3.98],[10.78,4.02],[10.73,3.42],[10.79,3.96],
  [10.81,3.43],[10.83,3.39],[10.86,4.00],[10.88,4.04],[10.84,3.45],[10.82,3.98],
  [10.91,3.45],[10.94,3.41],[10.96,4.02],[10.98,4.06],[10.93,3.47],[10.99,4.00],
  [11.01,3.48],[11.03,3.44],[11.06,4.04],[11.08,4.08],[11.04,3.50],[11.02,4.02],
  [11.11,3.50],[11.14,3.46],[11.16,4.06],[11.18,4.10],[11.13,3.52],[11.19,4.04],
  [11.21,3.53],[11.23,3.49],[11.26,4.08],[11.28,4.12],[11.24,3.55],[11.22,4.06],
  [11.31,3.55],[11.34,3.51],[11.36,4.10],[11.38,4.14],[11.33,3.57],[11.39,4.08],
  [11.41,3.57],[11.43,3.53],[11.46,4.13],[11.48,4.17],[11.44,3.59],[11.42,4.11],
  [11.51,3.60],[11.54,3.56],[11.56,4.15],[11.58,4.19],[11.53,3.62],[11.59,4.13],
  [11.61,3.63],[11.63,3.59],[11.66,4.17],[11.68,4.21],[11.64,3.65],[11.62,4.15],
  [11.71,3.65],[11.74,3.61],[11.76,4.19],[11.78,4.23],[11.73,3.67],[11.79,4.17],
  [11.81,3.68],[11.83,3.64],[11.86,4.21],[11.88,4.25],[11.84,3.70],[11.82,4.19],
  [11.91,3.70],[11.94,3.66],[11.96,4.23],[11.98,4.27],[11.93,3.72],[11.99,4.21],
  [12.01,3.73],[12.03,3.69],[12.06,4.25],[12.08,4.29],[12.04,3.75],[12.02,4.23],
  [12.11,3.75],[12.14,3.71],[12.16,4.27],[12.18,4.31],[12.13,3.77],[12.19,4.25],
  [12.21,3.78],[12.26,4.29],[12.24,3.74],[12.28,4.32],[12.32,3.80],[12.36,4.30],[12.38,3.82],[12.41,3.84],[12.47,4.31]
];

// scattered stars off the main band
const gaiaStray = [
  [10.83,0.11],[11.14,0.14],[11.43,0.19],[11.68,0.06],[12.49,0.28],[12.37,0.75],[12.84,1.14],[12.97,1.11],[9.67,1.70],[11.15,1.68],
  [12.20,1.92],[10.19,2.16],[9.83,2.36],[10.40,2.43],[12.57,2.76],[12.49,3.30],[9.53,3.04],[9.65,3.00],[9.62,3.11],[9.78,3.15],
  [10.02,3.18],[10.05,3.26],[9.90,3.24],[10.30,3.22],[10.35,3.20],[10.29,3.34],[10.58,3.33],[10.83,3.39],[11.01,3.42],[11.10,3.47],
  [11.24,3.39],[11.27,3.37],[11.24,3.50],[11.40,3.55],[11.64,3.58],[11.82,3.67],[12.19,3.70],[12.24,3.79],
  [12.62,3.78],[12.58,3.87],[12.51,3.88],[12.43,3.90],[12.78,4.08],[12.76,4.17],[12.71,4.11],[12.74,4.26],[12.88,4.21],[12.92,4.28],
  [12.96,4.26],[12.96,4.50],[12.87,4.15],[12.80,4.08],[12.43,4.41],[12.53,4.37],[12.51,4.41],[12.34,4.58],[12.44,4.56],[12.20,4.47],
  [12.11,4.37],[11.77,4.58],[11.78,4.44],[11.44,4.40],[11.37,4.33],[11.17,4.33],[11.48,4.21],[11.40,4.21],[12.02,4.23],[12.14,4.24],[12.25,4.22],
  [9.64,3.78],[9.69,3.90],[9.91,4.00],[10.01,3.86],[10.16,3.86],[10.30,3.95],[10.33,4.03],[10.48,4.00],[10.55,4.11],[10.62,4.04],
  [10.72,4.08],[10.82,4.07],[10.91,4.07],[11.01,4.04],[11.08,4.21],[11.20,4.26],[11.10,4.07],
  [7.55,2.92],[7.53,2.97],[7.62,3.03],[7.73,3.25],[7.79,3.34],[7.97,3.11],[8.04,3.30],[8.08,3.16],[8.08,3.36],[8.19,3.43],
  [8.21,3.38],[8.32,3.19],[8.34,3.28],[8.42,3.45],[8.49,3.53],[8.55,3.53],[8.66,3.55],[8.82,3.55],[8.85,3.65],[9.05,3.75],
  [9.19,3.79],[9.24,3.68],[9.32,3.82],[8.82,3.10],[8.93,2.95],[8.96,2.93],[9.04,2.89],[8.46,2.83],[8.53,2.97],[8.58,2.96],
  [8.65,3.01],[7.72,2.67],
  [5.36,2.45],[5.33,1.92],[5.44,1.90],[5.57,2.08],[5.62,2.01],[5.72,2.14],[5.50,2.14],[5.42,2.14],[5.59,2.28],[5.69,2.42],
  [5.80,2.08],[5.86,2.29],[5.89,2.60],[5.95,2.14],[5.97,1.68],[6.08,1.62],[5.80,1.67],[6.03,2.55],[6.01,2.61],[6.05,2.29],
  [6.11,2.70],[6.10,2.38],[6.16,2.39],[6.08,2.44],[6.19,2.18],[6.20,2.48],[6.23,2.57],[6.27,2.58],[6.34,2.43],[6.40,2.37],
  [6.42,1.97],[6.35,1.97],[6.43,2.53],[6.49,2.57],[6.57,2.63],[6.48,2.68],[6.58,2.50],[6.62,2.44],[6.63,2.56],[6.62,2.65],
  [6.73,2.59],[6.79,2.55],[6.87,2.62],[6.93,2.59],[6.92,2.68],[6.98,2.92],[7.01,2.70],[7.08,2.95],[7.02,2.62],[7.17,2.77],
  [7.22,2.70],[7.27,2.47],[7.35,2.51],[7.15,3.05],[6.99,3.06],[7.25,3.21],[7.28,3.12],[7.48,2.94],[7.50,3.06],[7.74,2.68],
  [7.84,3.09],[7.88,3.13],[6.55,2.06],[5.21,1.89],[5.25,2.20]
];

// 2: PMS candidates [M_G, G_Ks]
const pmsCandidates = [
  [3.15,2.74],[5.66,3.44],[5.69,2.58],[6.13,2.77],[6.16,2.86],[6.28,3.16],[6.52,3.02],[6.55,3.13],[6.62,2.38],[6.78,3.06],
  [6.80,3.45],[6.90,3.20],[6.90,3.40],[6.92,2.41],[7.01,2.79],[7.04,3.18],[7.19,3.31],[7.24,3.70],[7.25,3.25],[7.26,3.31],
  [7.28,3.11],[7.28,3.65],[7.32,4.55],[7.33,3.67],[7.37,3.17],[7.49,2.78],[7.51,3.47],[7.55,3.24],[7.55,3.94],[7.62,3.44],
  [7.68,3.58],[7.73,3.24],[7.75,3.81],[7.81,3.44],[7.85,3.51],[7.88,3.55],[8.10,3.77],[8.18,3.50],[8.23,3.64],[8.26,3.55],
  [8.36,3.11],[8.40,3.71],[8.40,3.80],[8.46,3.81],[8.52,3.72],[8.60,3.16],[8.63,3.61],[8.65,3.78],[8.73,4.22],[8.76,3.46],
  [8.83,4.11],[8.86,4.45],[8.87,3.27],[8.90,3.79],[8.91,3.17],[8.94,3.55],[8.99,3.78],[9.04,3.55],[9.04,4.47],[9.05,3.82],
  [9.11,3.90],[9.13,3.66],[9.16,3.56],[9.22,3.36],[9.23,3.78],[9.28,3.42],[9.30,3.36],[9.34,4.17],[9.39,3.79],[9.41,3.54],
  [9.41,3.68],[9.41,3.97],[9.53,3.45],[9.53,3.85],[9.59,4.14],[9.59,4.22],[9.65,3.71],[9.65,4.13],[9.66,3.99],[9.79,3.94],
  [9.83,4.06],[9.88,4.51],[9.90,3.89],[9.91,4.26],[9.93,4.16],[9.93,4.22],[9.95,3.89],[10.02,4.17],[10.02,4.29],[10.02,4.51],
  [10.06,3.66],[10.07,4.20],[10.09,3.78],[10.12,3.54],[10.15,3.97],[10.17,4.18],[10.19,4.36],[10.20,3.75],[10.22,4.28],[10.28,4.21],
  [10.29,4.42],[10.38,4.28],[10.40,3.50],[10.42,4.28],[10.43,3.67],[10.43,3.95],[10.44,4.16],[10.49,4.10],[10.55,4.32],[10.55,4.61],
  [10.58,3.75],[10.64,4.36],[10.69,4.28],[10.71,3.56],[10.74,4.23],[10.76,4.47],[10.83,4.17],[10.86,4.53],[10.86,4.68],[10.87,4.19],
  [10.91,4.32],[10.97,3.74],[11.05,4.29],[11.11,4.53],[11.14,4.70],[11.19,4.36],[11.23,4.24],[11.29,4.06],[11.33,4.58],[11.35,4.73],
  [11.44,4.53],[11.53,4.73],[11.62,4.45],[11.63,4.21],[11.64,4.68],[11.65,4.52],[11.68,4.59],[11.76,4.79],[11.77,3.94],[11.83,4.62],
  [11.88,4.53],[11.93,4.84],[11.95,4.75],[11.97,4.53],[11.98,4.21],[12.15,4.03],[12.20,4.36],[12.64,4.27],[12.65,4.78],[12.66,4.11],
  [12.94,4.62]
];

// dashed reference locus
const locusMG  = [2, 3, 4, 5, 6, 7, 8, 9, 10, 11, 12, 12.6];
const locusGKs = [0.93, 1.31, 1.70, 2.07, 2.45, 2.84, 3.22, 3.61, 4.00, 4.40, 4.80, 5.04];

const fam = '"DejaVu Sans", "Lucida Grande", Verdana, sans-serif';
const ink = '#1e1e1e';

const toXY = arr => arr.map(p => ({x: p[0], y: p[1]}));
const gaiaAll = toXY([].concat(gaiaBright, gaiaMid, gaiaMidCore, gaiaMidEdge, gaiaFaint, gaiaFaintCore, gaiaFaintEdge, gaiaStray));
const pmsAll = toXY(pmsCandidates);
const locus = locusMG.map((m, i) => ({x: m, y: locusGKs[i]}));

// frame with inward ticks on all four sides
const frame = {
    id: 'frame',
    afterDatasetsDraw(chart) {
        const {ctx, chartArea: a, scales: {x, y}} = chart;
        ctx.save();
        ctx.strokeStyle = '#333';
        ctx.lineWidth = 1;
        ctx.beginPath();
        for (let i = 0; i <= 55; i++) {
            const px = Math.round(x.getPixelForValue(2 + i * 0.2)) + 0.5;
            const len = i % 5 === 0 ? 7 : 4;
            ctx.moveTo(px, a.bottom); ctx.lineTo(px, a.bottom - len);
            ctx.moveTo(px, a.top); ctx.lineTo(px, a.top + len);
        }
        for (let i = 0; i <= 25; i++) {
            const py = Math.round(y.getPixelForValue(i * 0.2)) + 0.5;
            const len = i % 5 === 0 ? 7 : 4;
            ctx.moveTo(a.left, py); ctx.lineTo(a.left + len, py);
            ctx.moveTo(a.right, py); ctx.lineTo(a.right - len, py);
        }
        ctx.stroke();
        ctx.lineWidth = 2;
        ctx.strokeRect(a.left, a.top, a.right - a.left, a.bottom - a.top);
        ctx.restore();
    }
};

// boxed legend inside the plot, upper right
const boxLegend = {
    id: 'boxLegend',
    afterDraw(chart, args, opts) {
        const ctx = chart.ctx;
        const sets = chart.data.datasets.filter(d => d.inLegend);
        ctx.save();
        ctx.fillStyle = '#fff';
        ctx.fillRect(opts.left, opts.top, opts.width, opts.height);
        ctx.strokeStyle = '#333';
        ctx.lineWidth = 1.5;
        ctx.strokeRect(opts.left, opts.top, opts.width, opts.height);
        ctx.font = '22px ' + fam;
        ctx.textBaseline = 'alphabetic';
        sets.forEach((d, i) => {
            const cy = opts.top + 22 + i * 36;
            ctx.fillStyle = d.legendColor;
            ctx.beginPath();
            ctx.arc(opts.left + 21, cy, 3.4, 0, Math.PI * 2);
            ctx.fill();
            ctx.fillStyle = ink;
            ctx.fillText(d.label, opts.left + 42, cy + 14);
        });
        ctx.restore();
    }
};

new Chart(document.getElementById('cmd'), {
    type: 'scatter',
    data: {
        datasets: [{
            label: 'Gaia Audit (N = 4,205)',
            data: gaiaAll,
            pointStyle: 'rect',
            pointRadius: 3.1,
            backgroundColor: '#00a300',
            borderColor: 'rgba(0, 85, 0, 0.55)',
            borderWidth: 0.7,
            order: 3,
            inLegend: true,
            legendColor: '#00a300'
        }, {
            label: '2: PMS_Candidates',
            data: pmsAll,
            pointStyle: 'circle',
            pointRadius: 3.7,
            backgroundColor: '#f00000',
            borderWidth: 0,
            order: 1,
            inLegend: true,
            legendColor: '#f00000'
        }, {
            label: 'locus',
            type: 'line',
            data: locus,
            borderColor: '#000',
            borderWidth: 4.5,
            borderDash: [16, 10],
            pointRadius: 0,
            fill: false,
            tension: 0,
            order: 2,
            inLegend: false
        }]
    },
    options: {
        responsive: false,
        animation: false,
        events: [],
        layout: { padding: { top: 8, right: 23, bottom: 0, left: 0 } },
        plugins: {
            legend: { display: false },
            tooltip: { enabled: false },
            boxLegend: { left: 811, top: 47, width: 303, height: 78 }
        },
        scales: {
            x: {
                type: 'linear',
                min: 2,
                max: 13,
                grid: { display: false, drawTicks: false },
                border: { display: false },
                ticks: { stepSize: 1, padding: 10, color: ink, font: { family: fam, size: 23 } },
                title: {
                    display: true,
                    text: 'M_G (Absoute Magnitude)',
                    color: ink,
                    font: { family: fam, size: 22 },
                    padding: { top: 0, bottom: 5 }
                },
                afterFit(s) { s.height = 75; s.paddingLeft = 0; s.paddingRight = 0; }
            },
            y: {
                type: 'linear',
                min: 0,
                max: 5,
                reverse: true,
                grid: { display: false, drawTicks: false },
                border: { display: false },
                ticks: { stepSize: 1, padding: 9, color: ink, font: { family: fam, size: 23 } },
                title: {
                    display: true,
                    text: 'G_Ks (Color Index)',
                    color: ink,
                    font: { family: fam, size: 22 },
                    padding: { top: 6, bottom: 0 }
                },
                afterFit(s) { s.width = 62; s.paddingTop = 0; s.paddingBottom = 0; }
            }
        }
    },
    plugins: [frame, boxLegend]
});
</script>
</body>
</html>
